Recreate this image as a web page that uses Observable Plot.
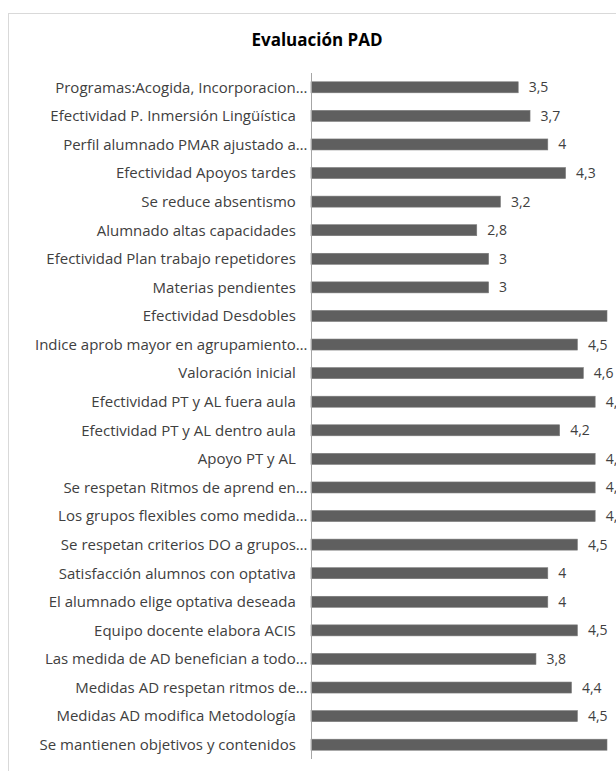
<!DOCTYPE html>
<html><head><meta charset="utf-8">
<script src="https://cdn.jsdelivr.net/npm/d3@7"></script>
<script src="https://cdn.jsdelivr.net/npm/@observablehq/plot@0.6"></script>
<style>
body{margin:0;background:#fff;}
#wrap{position:relative;width:616px;height:771px;overflow:hidden;font-family:"Open Sans",sans-serif;background:#fff;}
#frame{position:absolute;left:8px;top:13px;width:800px;height:900px;border:1px solid #d9d9d9;}
#title{position:absolute;left:8px;width:618px;top:28px;text-align:center;font-weight:bold;font-size:17px;color:#000;}
#chart{position:absolute;left:0;top:0;}
</style>
</head><body>
<div id="wrap"><div id="frame"></div><div id="title">Evaluación PAD</div><div id="chart"></div></div>
<script>
const pad = "\u00a0\u00a0\u00a0";
const categories = [
  "Programas:Acogida, Incorporacion…",
  "Efectividad P. Inmersión Lingüística" + pad,
  "Perfil alumnado PMAR ajustado a…",
  "Efectividad Apoyos tardes" + pad,
  "Se reduce absentismo" + pad,
  "Alumnado altas capacidades" + pad,
  "Efectividad Plan trabajo repetidores" + pad,
  "Materias pendientes" + pad,
  "Efectividad Desdobles" + pad,
  "Indice aprob mayor en agrupamiento…",
  "Valoración inicial" + pad,
  "Efectividad PT y AL fuera aula" + pad,
  "Efectividad PT y AL dentro aula" + pad,
  "Apoyo PT y AL" + pad,
  "Se respetan Ritmos de aprend en…",
  "Los grupos flexibles como medida…",
  "Se respetan criterios DO a grupos…",
  "Satisfacción alumnos con optativa" + pad,
  "El alumnado elige optativa deseada" + pad,
  "Equipo docente elabora ACIS" + pad,
  "Las medida de AD benefician a todo…",
  "Medidas AD respetan ritmos de…",
  "Medidas AD modifica Metodología" + pad,
  "Se mantienen objetivos y contenidos" + pad
];
const values = [3.5, 3.7, 4, 4.3, 3.2, 2.8, 3, 3, 5, 4.5, 4.6, 4.8, 4.2, 4.8, 4.8, 4.8, 4.5, 4, 4, 4.5, 3.8, 4.4, 4.5, 5];

const data = categories.map((c, i) => ({label: c, value: values[i]}));
const fmt = v => String(v).replace(".", ",");

const chart = Plot.plot({
  width: 616, height: 771,
  marginLeft: 311, marginRight: 9, marginTop: 73, marginBottom: 12,
  style: {fontFamily: "'Open Sans', sans-serif", fontSize: "15px", color: "#404040", background: "transparent"},
  x: {domain: [0, 5], axis: null},
  y: {domain: categories, paddingInner: 0.615, paddingOuter: 0.3075, round: false, axis: null},
  marks: [
    Plot.barX(data, {x: "value", y: "label", fill: "#5f5f5f", stroke: "#7a7a7a", strokeWidth: 0.6}),
    Plot.ruleX([0], {stroke: "#a6a6a6", strokeWidth: 1}),
    Plot.axisY({tickSize: 0, tickPadding: 4, fontSize: 15, label: null, fill: "#404040"}),
    Plot.text(data, {x: "value", y: "label", text: d => fmt(d.value), textAnchor: "start", dx: 10, fontSize: 14, fill: "#404040"})
  ]
});
document.getElementById("chart").appendChild(chart);
</script>
</body></html>
